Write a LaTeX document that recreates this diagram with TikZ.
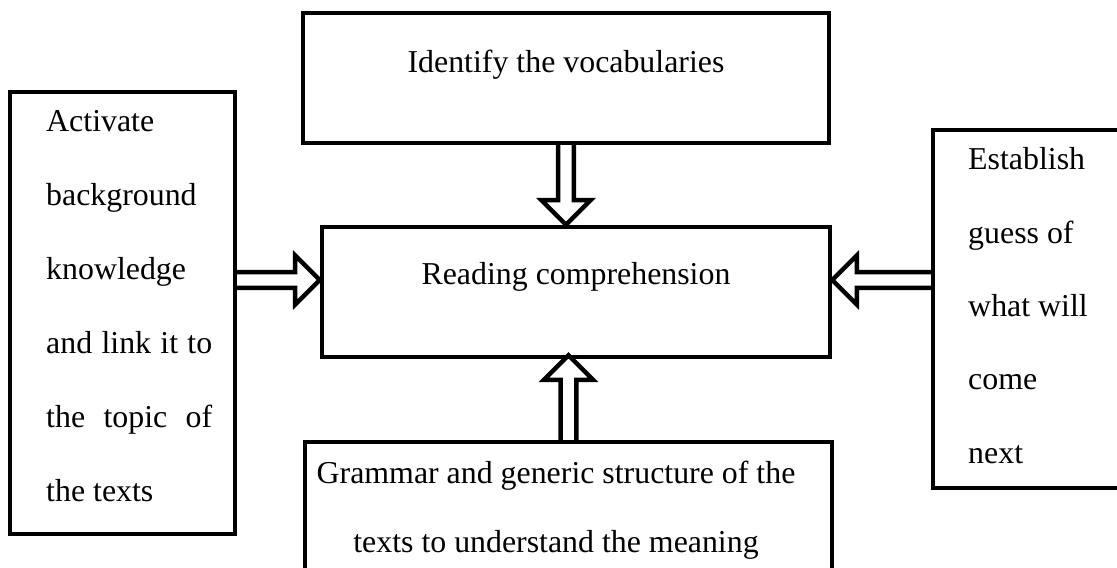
\documentclass[tikz,border=0pt]{standalone}
\usepackage{fontspec}
\setmainfont{Liberation Serif}
\usetikzlibrary{calc,positioning}

% outlined block arrow from #1 (tail) to #2 (tip)
\newcommand{\fatarrow}[2]{%
  \coordinate (hb) at ($(#2)!21pt!(#1)$);
  \draw[fat] ($(#1)!6.8pt!90:(#2)$) -- ($(hb)!6.8pt!90:(#2)$) -- ($(hb)!21pt!90:(#2)$)
    -- (#2) -- ($(hb)!21pt!-90:(#2)$) -- ($(hb)!6.8pt!-90:(#2)$) -- ($(#1)!6.8pt!-90:(#2)$);
}

\begin{document}
\begin{tikzpicture}[x=0.03cm, y=-0.03cm,
    box/.style={draw, line width=3.8pt, inner sep=0pt},
    txt/.style={inner sep=0pt, font=\fontsize{27.2pt}{32pt}\selectfont},
    fat/.style={draw, line width=3.8pt, line join=miter}]
    \useasboundingbox (0,0) rectangle (1117,568);
    \clip (0,0) rectangle (1117,568);

    \node[box, minimum width=15.78cm, minimum height=3.9cm] (top) at (566,78) {};
    \node[box, minimum width=6.75cm, minimum height=13.26cm] (left) at (122.5,313) {};
    \node[box, minimum width=15.24cm, minimum height=3.9cm] (main) at (576,292) {};
    \node[box, minimum width=6.21cm, minimum height=10.74cm] (right) at (1036.5,309) {};
    \node[box, minimum width=15.81cm, minimum height=4.74cm] (bottom) at (568.5,521) {};

    \node[txt, anchor=base] (toptext) at (566,73) {Identify the vocabularies};
    \node[txt, anchor=base] (maintext) at (576,285) {Reading comprehension};
    \foreach \t [count=\i from 0] in {Activate, background, knowledge,
        {\makebox[4.98cm][s]{and link it to}}, {\makebox[4.98cm][s]{the topic of}}, the texts}
      \node[txt, anchor=base west] (lefttext\i) at (46,132+73.8*\i) {\t};
    \foreach \t [count=\i from 0] in {Establish, guess of, what will, come, next}
      \node[txt, anchor=base west] (righttext\i) at (968,170+73.3*\i) {\t};
    \node[txt, anchor=base] (bottext0) at (556,483) {Grammar and generic structure of the};
    \node[txt, anchor=base] (bottext1) at (556,552) {texts to understand the meaning};

    \coordinate (tf) at (top.south);
    \coordinate (tt) at (top.south |- main.north);
    \coordinate (bf) at (bottom.north);
    \coordinate (bt) at ($(bottom.north |- main.south)+(0,-4)$);
    \coordinate (lt) at ($(main.west)+(0,-12)$);
    \coordinate (lf) at (left.east |- lt);
    \coordinate (rt) at ($(main.east)+(0,-12)$);
    \coordinate (rf) at (right.west |- rt);

    \fatarrow{tf}{tt}
    \fatarrow{bf}{bt}
    \fatarrow{lf}{lt}
    \fatarrow{rf}{rt}
\end{tikzpicture}
\end{document}
